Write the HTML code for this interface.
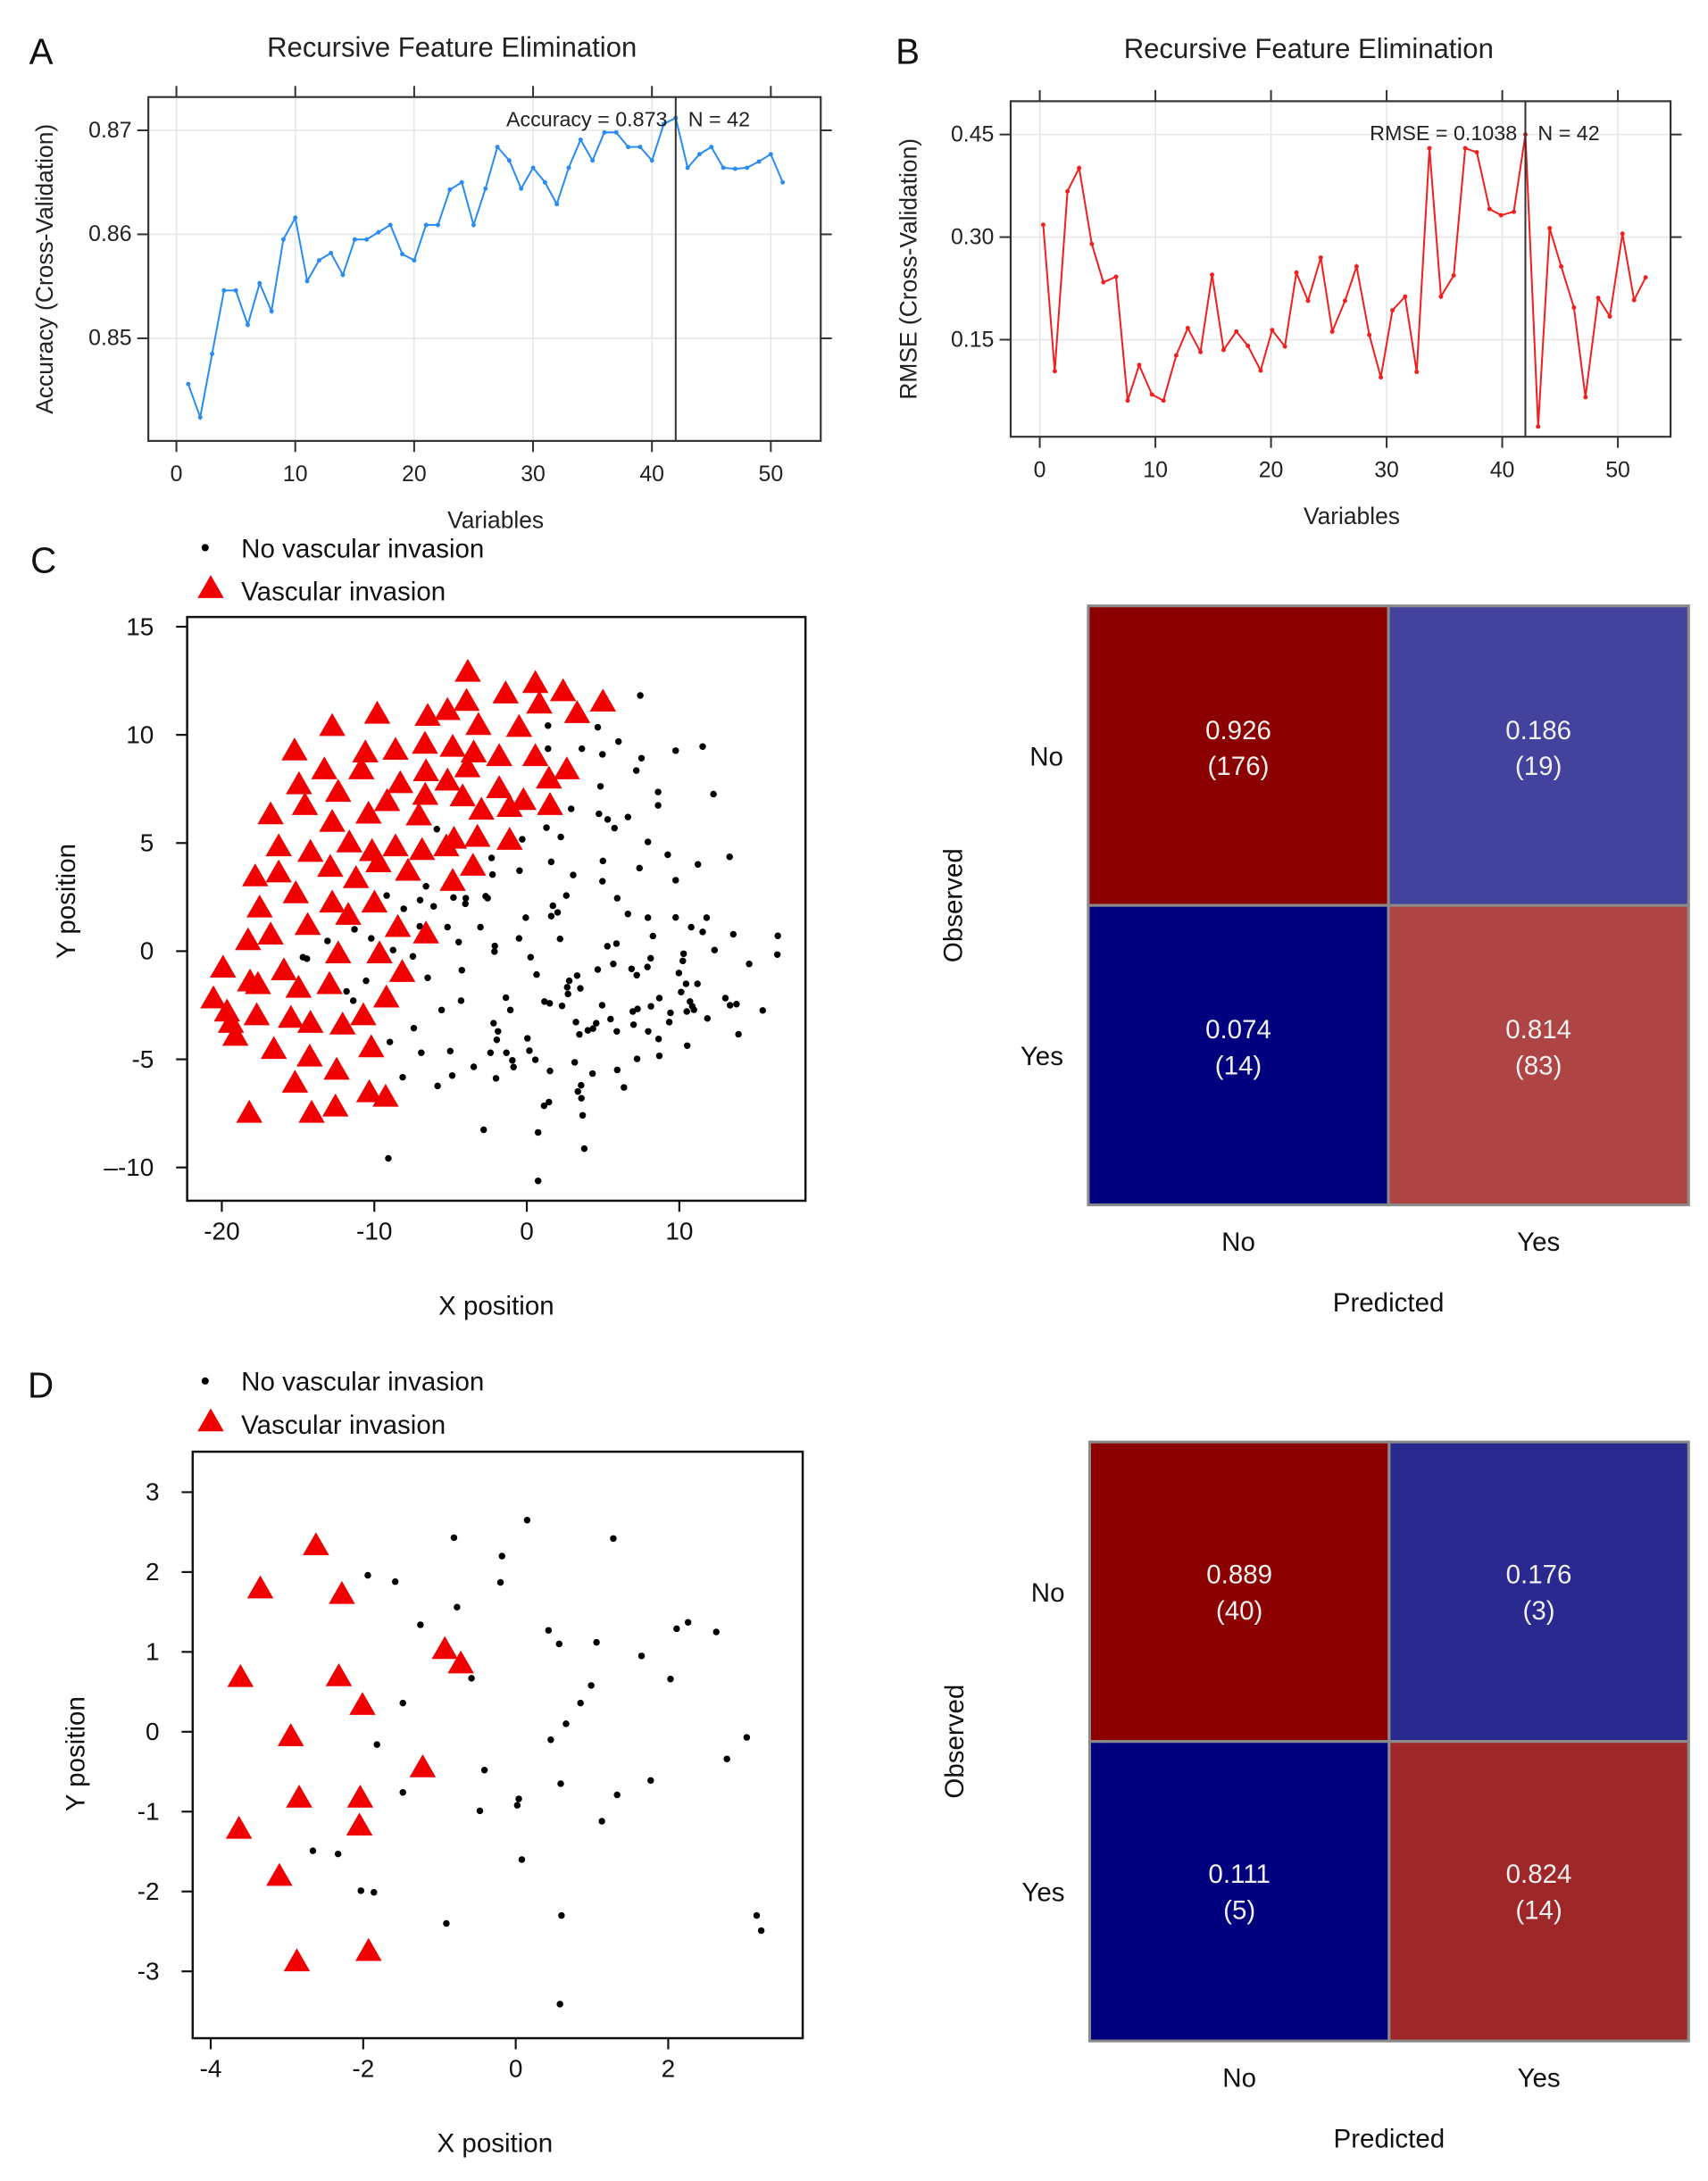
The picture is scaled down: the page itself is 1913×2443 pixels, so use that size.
<!DOCTYPE html>
<html><head><meta charset="utf-8"><style>
html,body{margin:0;padding:0;background:#fff;}
svg{display:block;font-family:"Liberation Sans",Arial,sans-serif;}
</style></head><body>
<svg id="fig" xmlns="http://www.w3.org/2000/svg" width="1913" height="2443" viewBox="0 0 1232 1573" preserveAspectRatio="none"></svg>
<script>
// ---------- Panel A data ----------
const accVars = [1,2,3,4,5,6,7,8,9,10,11,12,13,14,15,16,17,18,19,20,21,22,23,24,25,26,27,28,29,30,31,32,33,34,35,36,37,38,39,40,41,42,43,44,45,46,47,48,49,50,51];
const accVals = [0.8456,0.8424,0.8485,0.8546,0.8546,0.8513,0.8553,0.8526,0.8595,0.8616,0.8555,0.8575,0.8582,0.8561,0.8595,0.8595,0.8602,0.8609,0.8581,0.8575,0.8609,0.8609,0.8643,0.8650,0.8609,0.8644,0.8684,0.8671,0.8644,0.8664,0.8650,0.8629,0.8664,0.8691,0.8671,0.8698,0.8698,0.8684,0.8684,0.8671,0.8706,0.8712,0.8664,0.8677,0.8684,0.8664,0.8663,0.8664,0.8670,0.8677,0.8650];
const accXTicks = [0,10,20,30,40,50];
const accYTicks = [0.85,0.86,0.87];
const accBest = 42;
// ---------- Panel B data ----------
const rmseVars = [0.3,1.3,2.4,3.4,4.5,5.5,6.6,7.6,8.6,9.7,10.7,11.8,12.8,13.9,14.9,15.9,17.0,18.0,19.1,20.1,21.2,22.2,23.2,24.3,25.3,26.4,27.4,28.5,29.5,30.5,31.6,32.6,33.7,34.7,35.8,36.8,37.8,38.9,39.9,41.0,42.0,43.1,44.1,45.1,46.2,47.2,48.3,49.3,50.4,51.4,52.4];
const rmseVals = [0.318,0.104,0.367,0.401,0.290,0.234,0.242,0.061,0.113,0.070,0.061,0.127,0.167,0.132,0.245,0.135,0.162,0.141,0.105,0.164,0.140,0.248,0.207,0.270,0.162,0.207,0.257,0.157,0.095,0.193,0.213,0.103,0.430,0.213,0.244,0.430,0.424,0.341,0.332,0.337,0.450,0.023,0.313,0.257,0.197,0.066,0.211,0.184,0.305,0.208,0.241];
const rmseXTicks = [0,10,20,30,40,50];
const rmseYTicks = [0.15,0.30,0.45];
const rmseBest = 42;
// ---------- Panel C data ----------
const cTriX = [-3.87,0.56,2.38,-1.39,4.99,-9.81,-6.50,-5.20,-3.95,0.82,3.30,-12.76,-3.17,-0.51,-15.23,-10.59,-8.61,-6.68,-4.86,-3.48,-1.81,0.56,-10.85,-13.28,-6.61,-3.90,2.62,1.45,-14.94,-8.30,-5.20,-12.37,-6.66,-4.21,-1.81,-0.22,-1.13,-2.98,-14.55,-9.16,1.52,-16.80,-10.38,-7.08,-12.76,-16.27,-14.19,-11.64,-10.15,-8.61,-6.87,-5.28,-4.78,-3.24,-1.13,-9.73,-12.89,-17.81,-16.27,-7.79,-11.20,-4.86,-3.53,-15.15,-17.52,-12.76,-9.99,-11.71,-14.37,-8.46,-6.61,-18.28,-16.80,-12.37,-9.66,-19.92,-15.93,-8.17,-18.15,-17.63,-14.97,-12.94,-9.21,-20.55,-19.66,-17.71,-15.47,-14.19,-12.08,-10.72,-19.40,-19.11,-16.59,-10.20,-14.24,-12.47,-15.20,-10.33,-9.26,-18.20,-14.11,-12.55];
const cTriY = [12.86,12.34,11.96,11.86,11.48,10.92,10.82,11.09,11.51,11.39,10.95,10.35,10.40,10.31,9.22,9.13,9.25,9.53,9.39,9.13,8.96,8.96,8.35,8.35,8.26,8.44,8.35,7.92,7.66,7.71,7.83,7.31,7.17,7.10,7.48,6.93,6.61,6.48,6.70,6.88,6.70,6.27,6.30,6.22,5.92,4.79,4.53,4.97,4.57,4.79,4.62,4.79,5.14,5.23,5.09,4.05,3.84,3.40,3.58,3.66,3.32,3.19,3.89,2.62,1.96,2.19,2.19,1.62,1.15,1.06,0.76,0.45,0.71,-0.16,-0.16,-0.82,-0.94,-1.02,-1.46,-1.58,-1.75,-1.58,-2.20,-2.24,-2.85,-3.02,-3.14,-3.37,-3.45,-3.02,-3.37,-3.97,-4.58,-4.50,-4.93,-5.54,-6.14,-6.58,-6.79,-7.53,-7.53,-7.24];
const cDotX = [7.44,1.39,4.65,6.01,1.39,3.61,4.96,7.52,9.76,11.53,7.18,4.83,8.61,12.24,8.61,2.91,4.73,5.30,5.75,6.63,-5.90,1.29,2.23,-0.30,7.94,9.24,13.30,-2.31,1.60,4.99,11.22,7.39,-0.48,-2.25,3.04,4.96,9.76,-6.61,-9.19,-7.00,-4.81,-4.00,-4.03,-2.70,-2.57,2.59,1.71,5.93,-8.07,-6.11,1.60,2.02,-0.07,6.63,7.94,9.76,11.79,-11.30,-7.02,-5.20,-3.04,10.78,11.53,13.54,16.46,-13.07,-10.20,-4.47,-0.51,2.18,8.27,5.28,5.88,-2.10,-2.12,12.31,-8.77,-7.47,-14.68,-14.42,0.25,10.28,8.12,10.23,16.43,7.91,5.67,4.65,6.87,7.21,-4.26,0.64,3.30,14.58,9.97,-6.50,-10.54,2.78,2.65,11.19,10.44,10.12,3.51,2.70,-11.82,-11.38,-4.31,-1.37,1.16,1.50,2.31,4.94,8.69,8.14,10.70,10.85,13.02,13.33,13.75,-5.59,-1.08,6.95,7.26,9.42,10.49,10.96,15.47,11.84,5.49,4.55,3.22,-2.18,7.00,9.34,-7.41,-1.89,5.90,4.00,4.34,3.45,7.96,13.88,0.04,-1.97,8.64,-8.98,10.52,-6.92,-5.02,-2.38,-1.34,0.17,-0.95,0.56,3.14,7.23,8.69,-3.48,-0.87,1.52,5.93,4.31,-8.14,-4.89,-2.02,-5.85,3.56,3.35,6.37,3.58,1.45,1.13,3.66,-2.83,0.74,3.77,-9.08,0.74];
const cDotY = [11.82,10.43,10.35,9.69,9.36,9.36,9.10,8.92,9.27,9.46,8.35,7.62,7.36,7.26,6.74,6.58,6.35,6.09,5.69,6.20,5.64,5.71,5.28,5.17,5.05,4.46,4.36,4.31,4.13,4.17,4.01,3.84,3.72,3.54,3.52,3.23,3.28,3.00,2.57,2.36,2.48,2.45,2.19,2.54,2.45,2.57,2.10,2.45,1.96,2.07,1.62,1.79,1.55,1.72,1.55,1.56,1.55,1.01,1.15,1.11,1.11,1.11,0.89,0.78,0.71,0.47,0.59,0.42,0.59,0.57,0.70,0.23,0.35,0.24,-0.02,0.05,0.05,-0.24,-0.28,-0.35,-0.28,-0.12,-0.33,-0.45,-0.16,-0.73,-0.59,-0.85,-0.82,-1.11,-0.88,-1.08,-1.13,-0.59,-1.01,-1.23,-1.37,-1.37,-1.67,-1.51,-1.51,-1.89,-1.72,-1.98,-1.86,-2.29,-2.29,-2.15,-2.33,-2.41,-2.53,-2.50,-2.17,-2.55,-2.33,-2.55,-2.17,-2.50,-2.45,-2.72,-2.72,-2.79,-2.67,-2.85,-2.79,-2.71,-2.74,-3.11,-3.14,-3.33,-3.28,-3.33,-3.40,-3.28,-3.56,-3.71,-3.71,-3.66,-3.58,-3.85,-3.71,-3.84,-4.03,-4.10,-4.06,-4.20,-4.37,-4.70,-4.62,-4.70,-4.70,-4.60,-5.05,-5.02,-5.14,-4.98,-4.84,-5.35,-5.36,-5.54,-5.49,-5.66,-5.83,-5.75,-5.88,-6.23,-6.20,-6.49,-6.30,-6.80,-6.98,-7.15,-7.59,-8.26,-8.38,-9.13,-9.58,-10.62];
const cXTicks = [-20,-10,0,10];
const cYTicks = [-10,-5,0,5,10,15];
const cYTickLabels = ["–-10","-5","0","5","10","15"];
// ---------- Panel D data ----------
const dTriX = [-2.62,-3.35,-2.28,-0.93,-0.72,-3.61,-2.32,-2.01,-2.95,-1.22,-2.84,-2.04,-3.63,-2.05,-3.10,-2.87,-1.93];
const dTriY = [2.32,1.78,1.71,1.02,0.84,0.67,0.68,0.32,-0.07,-0.46,-0.84,-0.84,-1.23,-1.19,-1.82,-2.89,-2.76];
const dDotX = [0.15,-0.81,1.28,-0.18,-1.94,-1.58,-0.20,-0.77,-1.25,0.43,2.11,2.26,2.63,0.57,1.06,1.65,-0.58,2.03,0.99,-1.48,0.85,0.66,0.46,3.03,-1.82,2.77,-0.41,0.59,1.77,-1.48,1.33,0.04,0.02,-0.47,1.13,-2.66,-2.33,0.08,-2.03,-1.86,0.60,3.16,3.22,-0.91,0.58];
const dDotY = [2.65,2.43,2.42,2.20,1.96,1.88,1.87,1.56,1.34,1.27,1.29,1.37,1.25,1.10,1.12,0.95,0.67,0.66,0.58,0.36,0.36,0.10,-0.10,-0.07,-0.16,-0.34,-0.48,-0.65,-0.61,-0.76,-0.79,-0.84,-0.92,-0.99,-1.12,-1.49,-1.53,-1.60,-1.99,-2.01,-2.30,-2.30,-2.49,-2.40,-3.41];
const dXTicks = [-4,-2,0,2];
const dYTicks = [-3,-2,-1,0,1,2,3];
// ---------- Confusion matrices ----------
const cmCats = ["No","Yes"];
const cmCProps = [[0.926,0.186],[0.074,0.814]];
const cmCCounts = [[176,19],[14,83]];
const cmDProps = [[0.889,0.176],[0.111,0.824]];
const cmDCounts = [[40,3],[5,14]];

const NS="http://www.w3.org/2000/svg";
const svg=document.getElementById('fig');
function el(tag,attrs,parent,text){const e=document.createElementNS(NS,tag);for(const k in attrs)e.setAttribute(k,attrs[k]);if(text!==undefined)e.textContent=text;(parent||svg).appendChild(e);return e;}
function lin(d0,d1,r0,r1){return v=>r0+(v-d0)*(r1-r0)/(d1-d0);}

// ---------- lattice line chart ----------
function rfePanel(o){
  const g=el('g',{});
  
  
  const X=lin(o.xd[0],o.xd[1],o.xr[0],o.xr[1]), Y=lin(o.yd[0],o.yd[1],o.yr[0],o.yr[1]);
  const b=o.box;
  o.xt.forEach(t=>{const x=X(t);
    const gl=el('line',{x1:x,x2:x,y1:b.y0,y2:b.y1,stroke:'#e6e6e6','stroke-width':1},g);
    
    el('line',{x1:x,x2:x,y1:b.y1,y2:b.y1+8,stroke:'#333','stroke-width':1.3},g);
    el('line',{x1:x,x2:x,y1:b.y0,y2:b.y0-8,stroke:'#333','stroke-width':1.3},g);
    const tl=el('text',{x:x,y:b.y1+29,'text-anchor':'middle','font-size':16,fill:'#222'},g,String(t));
    
  });
  o.yt.forEach(t=>{const y=Y(t);
    const gl=el('line',{x1:b.x0,x2:b.x1,y1:y,y2:y,stroke:'#e6e6e6','stroke-width':1},g);
    
    el('line',{x1:b.x0,x2:b.x0-8,y1:y,y2:y,stroke:'#333','stroke-width':1.3},g);
    el('line',{x1:b.x1,x2:b.x1+8,y1:y,y2:y,stroke:'#333','stroke-width':1.3},g);
    const tl=el('text',{x:b.x0-12,y:y+5,'text-anchor':'end','font-size':16,fill:'#222'},g,t.toFixed(2));
    
  });
  const bx=el('rect',{x:b.x0,y:b.y0,width:b.x1-b.x0,height:b.y1-b.y0,fill:'none',stroke:'#333','stroke-width':1.4},g);
  
  const pts=o.xs.map((v,i)=>X(v).toFixed(1)+','+Y(o.ys[i]).toFixed(1)).join(' ');
  const pl=el('polyline',{points:pts,fill:'none',stroke:o.color,'stroke-width':1.3},g);
  
  o.xs.forEach((v,i)=>{const c=el('circle',{cx:X(v),cy:Y(o.ys[i]),r:1.6,fill:o.color},g);
    });
  const vx=X(o.best);
  const vl=el('line',{x1:vx,x2:vx,y1:b.y0,y2:b.y1,stroke:'#333','stroke-width':1.3},g);
  
  const a1=el('text',{x:vx-6,y:o.annY,'text-anchor':'end','font-size':15,fill:'#222'},g,o.ann);
  
  const a2=el('text',{x:vx+9,y:o.annY,'font-size':15,fill:'#222'},g,'N = '+o.best);
  
  const t=el('text',{x:o.titleX,y:o.titleY,'text-anchor':'middle','font-size':20,fill:'#222'},g,'Recursive Feature Elimination');
  
  const xl=el('text',{x:(b.x0+b.x1)/2+8,y:b.y1+63,'text-anchor':'middle','font-size':17,fill:'#222'},g,'Variables');
  
  const yl=el('text',{x:0,y:0,'text-anchor':'middle','font-size':17,fill:'#222',transform:`translate(${o.ylX},${(b.y0+b.y1)/2}) rotate(-90)`},g,o.ylab);
  
}
rfePanel({name:'panel-a-accuracy-chart',xs:accVars,ys:accVals,xt:accXTicks,yt:accYTicks,best:accBest,
  xd:[10,50],xr:[213,556],yd:[0.85,0.87],yr:[244,94],box:{x0:107,x1:592,y0:70,y1:318},color:'#2a8cf0',
  ann:'Accuracy = 0.873',annY:91,titleX:326,titleY:41,ylab:'Accuracy (Cross-Validation)',ylX:38});
rfePanel({name:'panel-b-rmse-chart',xs:rmseVars,ys:rmseVals,xt:rmseXTicks,yt:rmseYTicks,best:rmseBest,
  xd:[0,50],xr:[750,1167],yd:[0.15,0.45],yr:[245,97],box:{x0:729,x1:1205,y0:73,y1:315},color:'#f02020',
  ann:'RMSE = 0.1038',annY:101,titleX:944,titleY:42,ylab:'RMSE (Cross-Validation)',ylX:661});

// ---------- scatter ----------
function tri(g,x,y,s){const h=s*0.87;
  const p=el('polygon',{points:`${x},${y-h*0.62} ${x-s/2},${y+h*0.38} ${x+s/2},${y+h*0.38}`,fill:'#f00000'},g);
  }
function scatterPanel(o){
  const g=el('g',{});
  
  
  const X=lin(o.xd[0],o.xd[1],o.xr[0],o.xr[1]),Y=lin(o.yd[0],o.yd[1],o.yr[0],o.yr[1]);const b=o.box;
  const fr=el('rect',{x:b.x0,y:b.y0,width:b.x1-b.x0,height:b.y1-b.y0,fill:'none',stroke:'#111','stroke-width':1.6},g);
  
  o.xt.forEach(t=>{const x=X(t);el('line',{x1:x,x2:x,y1:b.y1,y2:b.y1+8,stroke:'#111','stroke-width':1.4},g);
    const tl=el('text',{x:x,y:b.y1+28,'text-anchor':'middle','font-size':18,fill:'#111'},g,String(t));
    });
  o.yt.forEach((t,i)=>{const y=Y(t);el('line',{x1:b.x0,x2:b.x0-8,y1:y,y2:y,stroke:'#111','stroke-width':1.4},g);
    const tl=el('text',{x:b.x0-24,y:y+6,'text-anchor':'end','font-size':18,fill:'#111'},g,o.yl?o.yl[i]:String(t));
    });
  o.dx.forEach((v,i)=>{const c=el('circle',{cx:X(v),cy:Y(o.dy[i]),r:2.4,fill:'#000'},g);
    });
  o.tx.forEach((v,i)=>tri(g,X(v),Y(o.ty[i]),o.ts));
  const xl=el('text',{x:o.xlX,y:b.y1+82,'text-anchor':'middle','font-size':19,fill:'#111'},g,'X position');
  
  const yl=el('text',{x:0,y:0,'text-anchor':'middle','font-size':19,fill:'#111',transform:`translate(${o.ylX},${o.ylY}) rotate(-90)`},g,'Y position');
  
  const lg=el('g',{},g);
  const ld=el('circle',{cx:148,cy:o.legY,r:2.6,fill:'#000'},lg);
  const l1=el('text',{x:174,y:o.legY+7,'font-size':19,fill:'#111'},lg,'No vascular invasion');
  
  tri(lg,152,o.legY+30,19);
  const l2=el('text',{x:174,y:o.legY+38,'font-size':19,fill:'#111'},lg,'Vascular invasion');
  
}
scatterPanel({name:'panel-c-scatter',xd:[0,10],xr:[380,490],yd:[0,10],yr:[686,530],box:{x0:135,x1:581,y0:445,y1:866},
  xt:cXTicks,yt:cYTicks,yl:cYTickLabels,dx:cDotX,dy:cDotY,tx:cTriX,ty:cTriY,ts:19,xlX:358,ylX:54,ylY:650,legY:395});
scatterPanel({name:'panel-d-scatter',xd:[0,2],xr:[372,482],yd:[0,1],yr:[1249,1191.4],box:{x0:139,x1:579,y0:1047,y1:1470},
  xt:dXTicks,yt:dYTicks,dx:dDotX,dy:dDotY,tx:dTriX,ty:dTriY,ts:19,xlX:357,ylX:61,ylY:1265,legY:996});

// ---------- confusion matrices ----------
function cmPanel(o){
  const g=el('g',{});
  
  
  const w=(o.x1-o.x0)/2,h=(o.y1-o.y0)/2;
  for(let r=0;r<2;r++)for(let c=0;c<2;c++){
    const x=o.x0+c*w,y=o.y0+r*h,v=o.p[r][c];
    const rc=el('rect',{x:x,y:y,width:w,height:h,fill:o.colors[r][c],stroke:'#8a8a8a','stroke-width':2},g);
    
    const t1=el('text',{x:x+w/2,y:y+h/2-6+o.tOff,'text-anchor':'middle','font-size':19,fill:'#f0f0f0'},g,v.toFixed(3));
    
    const t2=el('text',{x:x+w/2,y:y+h/2+20+o.tOff,'text-anchor':'middle','font-size':19,fill:'#f0f0f0'},g,'('+o.n[r][c]+')');
    
  }
  cmCats.forEach((c,i)=>{
    const a=el('text',{x:o.x0-18,y:o.y0+h*i+h/2-o.rowOff,'text-anchor':'end','font-size':19,fill:'#111'},g,c);
    
    const b=el('text',{x:o.x0+w*i+w/2,y:o.y1+33,'text-anchor':'middle','font-size':19,fill:'#111'},g,c);
    
  });
  const ol=el('text',{x:0,y:0,'text-anchor':'middle','font-size':19,fill:'#111',transform:`translate(${o.x0-91},${(o.y0+o.y1)/2}) rotate(-90)`},g,'Observed');
  
  const pl=el('text',{x:(o.x0+o.x1)/2,y:o.y1+77,'text-anchor':'middle','font-size':19,fill:'#111'},g,'Predicted');
  
}
cmPanel({name:'panel-c-confusion-matrix',x0:785,x1:1218,y0:437,y1:869,p:cmCProps,n:cmCCounts,rowOff:-7,tOff:-6,
  colors:[['#8b0000','#43429c'],['#00007f','#ae4444']]});
cmPanel({name:'panel-d-confusion-matrix',x0:786,x1:1218,y0:1040,y1:1472,p:cmDProps,n:cmDCounts,rowOff:-7,tOff:0,
  colors:[['#8b0000','#29298f'],['#00007f','#a02727']]});

// ---------- panel letters ----------
[['A',21,46],['B',646,46],['C',22,413],['D',20,1008]].forEach(([t,x,y])=>{
  const l=el('text',{x:x,y:y,'font-size':26,fill:'#111'},svg,t);
  
  
});
</script>
</body></html>
